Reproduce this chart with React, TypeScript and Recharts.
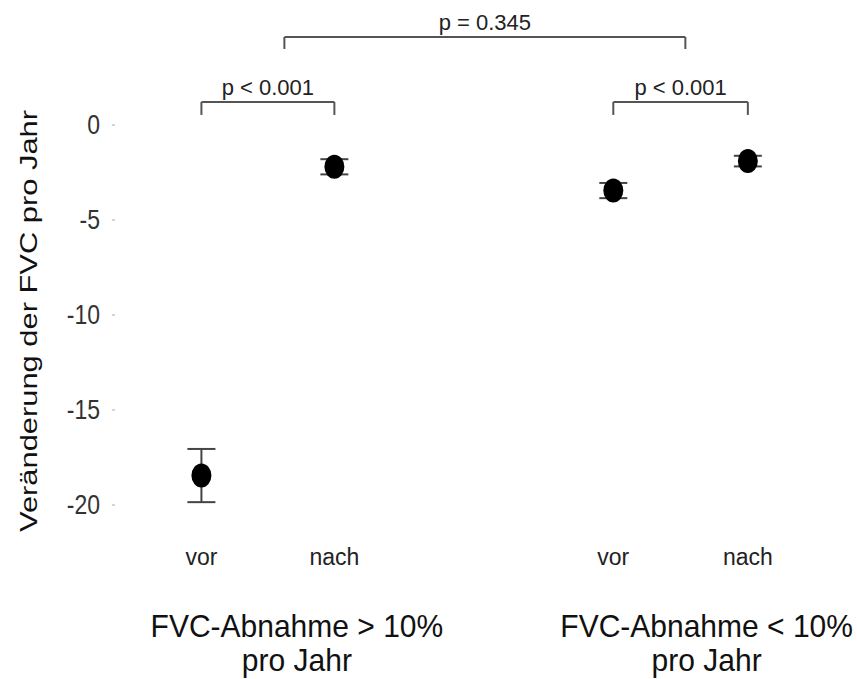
import React from 'react';
import { ScatterChart, Scatter, XAxis, YAxis, ErrorBar, ReferenceLine, Customized } from 'recharts';

const categories = ['vor', 'nach', 'vor', 'nach'];
const categoryPos = [1, 2, 4.098, 5.11];
const means = [-18.45, -2.2, -3.45, -1.9];
const errors = [1.4, 0.4, 0.4, 0.28];
const groupLabels = [['FVC-Abnahme > 10%', 'pro Jahr'], ['FVC-Abnahme < 10%', 'pro Jahr']];
const groupPos = [1.718, 4.8];
const yTicks = [0, -5, -10, -15, -20];
const yLabel = 'Veränderung der FVC pro Jahr';
const pairBrackets = [
  { x1: 1, x2: 2, label: 'p < 0.001' },
  { x1: 4.098, x2: 5.11, label: 'p < 0.001' },
];
const topBracket = { x1: 1.624, x2: 4.64, label: 'p = 0.345' };

const data = categories.map((c, i) => ({ x: categoryPos[i], y: means[i], err: errors[i], name: c }));

const FONT = '"Liberation Sans", Arial, sans-serif';
const BR = '#555';

const Dot = (props: any) => {
  const { cx, cy } = props;
  if (cx == null || cy == null) return null;
  return <ellipse cx={cx} cy={cy} rx={10} ry={12} fill="#000" />;
};

const StretchText = ({ x, y, size, fill, anchor, sy, children }: any) => (
  <text
    transform={`translate(${x}, ${y}) scale(1, ${sy})`}
    x={0}
    y={0}
    textAnchor={anchor}
    fontSize={size}
    fill={fill}
    fontFamily={FONT}
  >
    {children}
  </text>
);

const XTick = (props: any) => {
  const { x, y, payload } = props;
  const v = payload.value;
  const ci = categoryPos.indexOf(v);
  if (ci >= 0) {
    return (
      <StretchText x={x} y={y + 41} size={23} fill="#222" anchor="middle" sy={1.08}>
        {categories[ci]}
      </StretchText>
    );
  }
  const gi = groupPos.indexOf(v);
  if (gi >= 0) {
    return (
      <g>
        <StretchText x={x} y={y + 113} size={30} fill="#111" anchor="middle" sy={1.05}>
          {groupLabels[gi][0]}
        </StretchText>
        <StretchText x={x} y={y + 147} size={30} fill="#111" anchor="middle" sy={1.05}>
          {groupLabels[gi][1]}
        </StretchText>
      </g>
    );
  }
  return null;
};

const YTick = (props: any) => {
  const { x, y, payload } = props;
  return (
    <StretchText x={x} y={y + 9} size={23} fill="#333" anchor="end" sy={1.18}>
      {payload.value}
    </StretchText>
  );
};

const YTitle = () => (
  <text
    x={37}
    y={321}
    transform="rotate(-90, 37, 321)"
    textAnchor="middle"
    fontSize={24}
    fill="#111"
    fontFamily={FONT}
    textLength={422}
    lengthAdjust="spacingAndGlyphs"
  >
    {yLabel}
  </text>
);

const bracketLines = (b: { x1: number; x2: number; label: string }, yTop: number, yLeg: number, key: string) => [
  <ReferenceLine
    key={key + 'h'}
    segment={[{ x: b.x1, y: yTop }, { x: b.x2, y: yTop }]}
    stroke={BR}
    strokeWidth={2}
    ifOverflow="visible"
    label={{ value: b.label, position: 'top', offset: 7, fontSize: 22, fill: '#222', fontFamily: FONT }}
  />,
  <ReferenceLine key={key + 'l'} segment={[{ x: b.x1, y: yTop }, { x: b.x1, y: yLeg }]} stroke={BR} strokeWidth={2} ifOverflow="visible" />,
  <ReferenceLine key={key + 'r'} segment={[{ x: b.x2, y: yTop }, { x: b.x2, y: yLeg }]} stroke={BR} strokeWidth={2} ifOverflow="visible" />,
];

export default function App() {
  const allTicks = [...categoryPos, ...groupPos].sort((a, b) => a - b);
  return (
    <div style={{ position: 'absolute', left: 0, top: 0, background: '#fff' }}>
      <ScatterChart width={857} height={679} margin={{ top: 11, right: 44, bottom: 95, left: 65 }}>
        <XAxis
          type="number"
          dataKey="x"
          domain={[0.35, 5.6]}
          ticks={allTicks}
          tick={<XTick />}
          axisLine={false}
          tickLine={false}
          tickSize={0}
          tickMargin={0}
          height={60}
          interval={0}
          allowDataOverflow
        />
        <YAxis
          type="number"
          dataKey="y"
          domain={[-21, 6]}
          ticks={yTicks}
          width={50}
          axisLine={false}
          tickSize={3}
          tickMargin={12}
          tickLine={{ stroke: '#aaa' }}
          tick={<YTick />}
          allowDataOverflow
        />
        {bracketLines(topBracket, 4.63, 4.0, 'top')}
        {pairBrackets.map((b, i) => bracketLines(b, 1.21, 0.53, 'p' + i))}
        <Scatter data={data} shape={<Dot />} isAnimationActive={false}>
          <ErrorBar dataKey="err" direction="y" width={14} stroke="#444" strokeWidth={2} isAnimationActive={false} />
        </Scatter>
        <Customized component={<YTitle />} />
      </ScatterChart>
    </div>
  );
}
